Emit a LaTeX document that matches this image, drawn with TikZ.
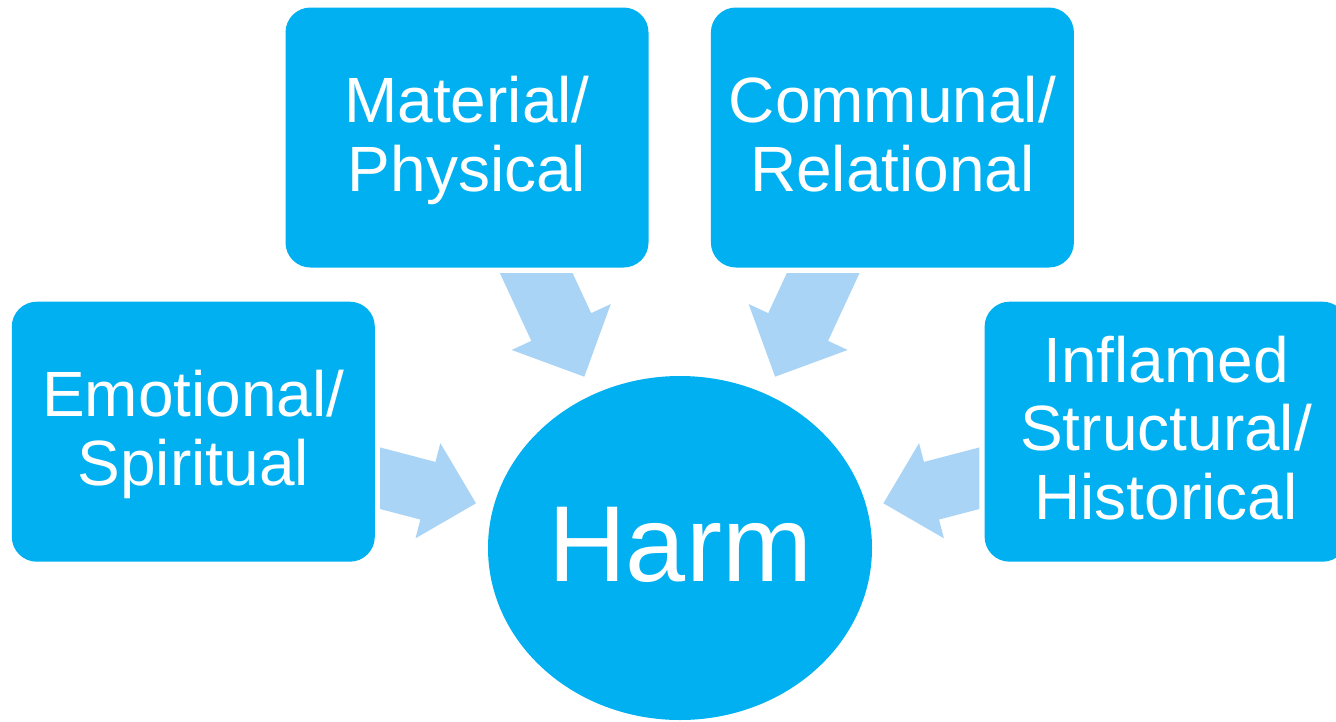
\documentclass[tikz,border=0pt]{standalone}
\usepackage{fontspec}
\setmainfont{Liberation Sans}
\usetikzlibrary{calc,shapes.geometric}
\definecolor{boxblue}{RGB}{0,176,240}
\definecolor{arrowblue}{RGB}{170,212,245}
\newcommand{\bstrut}{\rule[-13.5pt]{0pt}{65.5pt}}
% block arrow: tail, tip, shaft half width, head half width, head length, cut direction
\newcommand{\blockarrow}[6]{%
  \coordinate (ab) at ($(#2)!#5!(#1)$);
  \coordinate (as1) at ($(ab)!#3!90:(#2)$);
  \coordinate (as2) at ($(ab)!#3!-90:(#2)$);
  \coordinate (ah1) at ($(ab)!#4!90:(#2)$);
  \coordinate (ah2) at ($(ab)!#4!-90:(#2)$);
  \coordinate (ae1) at ($(as1)+(#1)-(ab)$);
  \coordinate (ae2) at ($(as2)+(#1)-(ab)$);
  \coordinate (ac) at ($(#1)+#6$);
  \fill[harrow] (intersection of as1--ae1 and #1--ac) -- (as1) -- (ah1) -- (#2)
    -- (ah2) -- (as2) -- (intersection of as2--ae2 and #1--ac) -- cycle;
}
\begin{document}
\begin{tikzpicture}[x=1pt,y=-1pt,
    box/.style={fill=boxblue,text=white,rounded corners=25pt,minimum width=363pt,
      minimum height=260pt,align=center,font=\fontsize{64}{68.5}\selectfont},
    harm/.style={ellipse,fill=boxblue,minimum width=384pt,minimum height=344pt,inner sep=0pt},
    harrow/.style={fill=arrowblue}]
    \useasboundingbox (0,0) rectangle (1336,721);
    \clip (0,0) rectangle (1336,721);
    \node[box] (A0_1) at (467,137.5) {\bstrut Material/\\Physical\bstrut};
    \node[box] (A0_2) at (892.4,137.5) {\bstrut Communal/\\Relational\bstrut};
    \node[box] (A1_0) at (193.3,431.7) {\bstrut Emotional/\\Spiritual\bstrut};
    \node[box] (A1_3) at (1166.1,431.7) {\bstrut Inflamed\\Structural/\\Historical\bstrut};
    \node[harm] (A2_1) at (680,548) {};
    \node[text=white,font=\fontsize{108}{108}\selectfont] (H) at (680,544.5) {Harm};
    % arrows into the circle
    \coordinate (t1_0) at (380,478.2);   \coordinate (h1_0) at (476,503.3);
    \coordinate (t1_3) at (979.4,478.2); \coordinate (h1_3) at (883.4,503.3);
    \coordinate (t0_1) at (536.2,273);   \coordinate (h0_1) at (584.3,376.7);
    \coordinate (t0_2) at (823.2,273);   \coordinate (h0_2) at (775.1,376.7);
    \blockarrow{t1_0}{h1_0}{29.8pt}{49.2pt}{49.7pt}{(0,1)}
    \blockarrow{t1_3}{h1_3}{29.8pt}{49.2pt}{49.7pt}{(0,1)}
    \blockarrow{t0_1}{h0_1}{33pt}{54.6pt}{54.8pt}{(1,0)}
    \blockarrow{t0_2}{h0_2}{33pt}{54.6pt}{54.8pt}{(1,0)}
  \end{tikzpicture}
\end{document}
